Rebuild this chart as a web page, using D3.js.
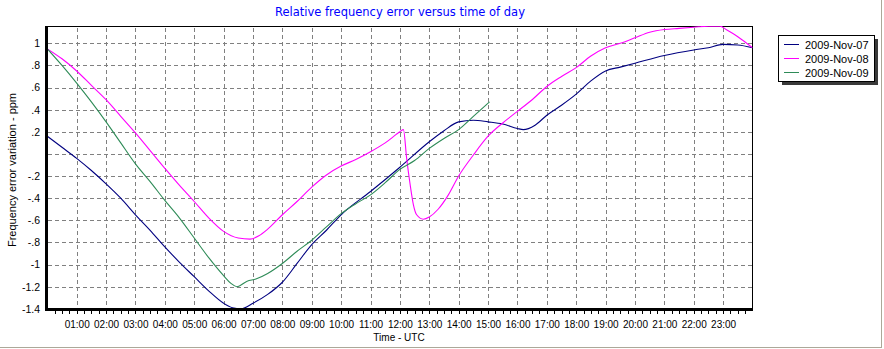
<!DOCTYPE html>
<html>
<head>
<meta charset="utf-8">
<script src="https://cdn.jsdelivr.net/npm/d3@7"></script>
<style>
  html, body { margin: 0; padding: 0; background: #fff; }
  svg { display: block; }
  text { font-family: "Liberation Sans", Arial, sans-serif; }
</style>
</head>
<body>
<svg id="chart" width="884" height="349"></svg>
<script>
// ---------- data ----------
const seriesNames = ["2009-Nov-07", "2009-Nov-08", "2009-Nov-09"];
const seriesColors = ["#000080", "#ff00ff", "#2e8b57"];

const nov07Hours = [0, 0.5, 1, 1.5, 2, 2.5, 3, 3.5, 4, 4.5, 5, 5.5, 6, 6.3, 6.6, 7, 7.5, 8, 8.5, 9, 9.5, 10, 11, 12, 13, 13.5, 14, 14.5, 15, 15.5, 16, 16.2, 16.6, 17, 17.5, 18, 18.5, 19, 19.5, 20, 21, 22, 22.5, 23, 23.5, 24];
const nov07Values = [0.16, 0.06, -0.04, -0.15, -0.27, -0.40, -0.55, -0.69, -0.84, -0.98, -1.11, -1.24, -1.35, -1.39, -1.40, -1.35, -1.27, -1.16, -0.99, -0.82, -0.69, -0.55, -0.34, -0.12, 0.11, 0.21, 0.29, 0.305, 0.29, 0.27, 0.23, 0.22, 0.26, 0.35, 0.44, 0.54, 0.66, 0.75, 0.785, 0.82, 0.89, 0.94, 0.96, 0.99, 0.985, 0.96];

const nov08Hours = [0, 0.5, 1, 1.5, 2, 2.5, 3, 3.5, 4, 4.5, 5, 5.5, 6, 6.5, 6.9, 7.2, 7.5, 8, 8.5, 9, 9.5, 10, 10.5, 11, 11.5, 12, 12.12, 12.23, 12.35, 12.46, 12.57, 12.8, 13, 13.3, 13.65, 14, 14.5, 15, 15.5, 16, 16.5, 17, 17.5, 18, 18.5, 19, 19.5, 20, 20.5, 21, 21.5, 22, 22.5, 22.9, 23.1, 23.5, 24];
const nov08Values = [0.95, 0.86, 0.75, 0.62, 0.49, 0.34, 0.19, 0.03, -0.13, -0.285, -0.43, -0.58, -0.70, -0.76, -0.77, -0.74, -0.68, -0.55, -0.43, -0.30, -0.19, -0.11, -0.05, 0.02, 0.10, 0.20, 0.22, -0.04, -0.28, -0.46, -0.55, -0.59, -0.57, -0.50, -0.37, -0.20, -0.01, 0.16, 0.28, 0.385, 0.49, 0.61, 0.70, 0.78, 0.885, 0.96, 1.00, 1.05, 1.10, 1.125, 1.135, 1.145, 1.155, 1.155, 1.125, 1.06, 0.96];

const nov09Hours = [0, 0.5, 1, 1.5, 2, 2.5, 3, 3.5, 4, 4.5, 5, 5.5, 6, 6.25, 6.45, 6.8, 7.1, 7.5, 8, 8.5, 9, 9.5, 10, 10.5, 11, 11.5, 12, 12.5, 13, 13.5, 14, 14.5, 15.05];
const nov09Values = [0.95, 0.80, 0.64, 0.47, 0.29, 0.10, -0.09, -0.25, -0.42, -0.58, -0.76, -0.94, -1.10, -1.17, -1.20, -1.15, -1.13, -1.08, -0.99, -0.88, -0.78, -0.66, -0.54, -0.45, -0.37, -0.26, -0.14, -0.06, 0.05, 0.14, 0.22, 0.34, 0.47];

const xTickHours = d3.range(1, 24);
const xMinorTicks = d3.range(0.25, 24, 0.25);
const yTickValues = [-1.4, -1.2, -1.0, -0.8, -0.6, -0.4, -0.2, 0, 0.2, 0.4, 0.6, 0.8, 1.0];
const yGridValues = [-1.2, -1.0, -0.8, -0.6, -0.4, -0.2, 0, 0.2, 0.4, 0.6, 0.8, 1.0];

const titleText = "Relative frequency error versus time of day";
const xTitle = "Time - UTC";
const yTitle = "Frequency error variation - ppm";

// ---------- layout ----------
const svg = d3.select("#chart");
const L = 47.3, R = 752.5, T = 26.5, B = 308.8;
const x = d3.scaleLinear().domain([0, 24]).range([L, R]);
const y = d3.scaleLinear().domain([-1.4, 1.152]).range([B, T]);

// outer frame (right / bottom)
svg.append("line").attr("x1", 0).attr("x2", 882).attr("y1", 347.5).attr("y2", 347.5).attr("stroke", "#aca899");
svg.append("line").attr("x1", 881.5).attr("x2", 881.5).attr("y1", 0).attr("y2", 348).attr("stroke", "#aca899");

// title
svg.append("text").attr("x", 400).attr("y", 16).attr("text-anchor", "middle")
  .style("font-family", "'DejaVu Sans', Verdana, sans-serif").style("font-size", "11.5px")
  .attr("fill", "#0000ff").text(titleText);

// grid
const grid = svg.append("g").attr("stroke", "#808080").attr("stroke-dasharray", "4,3").attr("shape-rendering", "crispEdges");
grid.selectAll("line.v").data(xTickHours).join("line").attr("class", "v")
  .attr("x1", d => Math.round(x(d)) + 0.5).attr("x2", d => Math.round(x(d)) + 0.5)
  .attr("y1", T + 1).attr("y2", 308);
grid.selectAll("line.h").data(yGridValues).join("line").attr("class", "h")
  .attr("x1", 48).attr("x2", R)
  .attr("y1", d => Math.round(y(d)) + 0.5).attr("y2", d => Math.round(y(d)) + 0.5);

// plot frame
svg.append("rect").attr("x", 47.5).attr("y", 26.5).attr("width", 705).attr("height", 282)
  .attr("fill", "none").attr("stroke", "#000").attr("shape-rendering", "crispEdges");

// lines
svg.append("defs").append("clipPath").attr("id", "clip")
  .append("rect").attr("x", 48).attr("y", 26).attr("width", 704.5).attr("height", 283);
const line = d3.line().x(d => x(d[0])).y(d => y(d[1])).curve(d3.curveMonotoneX);
const allSeries = [
  d3.zip(nov07Hours, nov07Values),
  d3.zip(nov08Hours, nov08Values),
  d3.zip(nov09Hours, nov09Values)
];
const lines = svg.append("g").attr("clip-path", "url(#clip)");
allSeries.forEach((s, i) => {
  lines.append("path").attr("d", line(s)).attr("fill", "none")
    .attr("stroke", seriesColors[i]).attr("stroke-width", 1.1);
});

// thick axes
svg.append("rect").attr("x", 45).attr("y", 26).attr("width", 3).attr("height", 285).attr("fill", "#000");
svg.append("rect").attr("x", 45).attr("y", 308).attr("width", 708).attr("height", 3).attr("fill", "#000");

// minor ticks
const minor = svg.append("g").attr("transform", "translate(0,311)")
  .call(d3.axisBottom(x).tickValues(xMinorTicks).tickSize(3).tickFormat(""));
minor.select(".domain").remove();
minor.selectAll("line").attr("stroke", "#000").attr("shape-rendering", "crispEdges");

// x labels
const xAx = svg.append("g").attr("transform", "translate(0,321)")
  .call(d3.axisBottom(x).tickValues(xTickHours).tickSize(0).tickPadding(0)
    .tickFormat(d => String(d).padStart(2, "0") + ":00"));
xAx.select(".domain").remove();
xAx.selectAll("text").style("font-family", "'Liberation Sans', Arial, sans-serif").style("font-size", "10px").attr("fill", "#000");

// y labels
const fmtY = v => {
  if (Math.abs(v) < 1e-9) return "";
  let s = String(+v.toFixed(1));
  return s.replace(/^(-?)0\./, "$1.");
};
const yAx = svg.append("g").attr("transform", "translate(45,0)")
  .call(d3.axisLeft(y).tickValues(yTickValues).tickSize(0).tickPadding(5).tickFormat(fmtY));
yAx.select(".domain").remove();
yAx.selectAll("text").style("font-family", "'Liberation Sans', Arial, sans-serif").style("font-size", "10.5px").attr("fill", "#000");

// axis titles
svg.append("text").attr("x", 399).attr("y", 341).attr("text-anchor", "middle")
  .style("font-size", "10px").attr("fill", "#000").text(xTitle);
svg.append("text").attr("transform", "translate(15.5,170) rotate(-90)").attr("text-anchor", "middle")
  .style("font-size", "11px").attr("fill", "#000").text(yTitle);

// legend
const lg = svg.append("g");
lg.append("rect").attr("x", 782).attr("y", 39).attr("width", 96).attr("height", 46).attr("fill", "#3a3a3a");
lg.append("rect").attr("x", 778.5).attr("y", 35.5).attr("width", 96).attr("height", 46)
  .attr("fill", "#fff").attr("stroke", "#000").attr("shape-rendering", "crispEdges");
seriesNames.forEach((n, i) => {
  const yy = 44.5 + i * 14;
  lg.append("line").attr("x1", 784).attr("x2", 799).attr("y1", yy).attr("y2", yy)
    .attr("stroke", seriesColors[i]).attr("shape-rendering", "crispEdges");
  lg.append("text").attr("x", 805).attr("y", yy + 4).style("font-size", "11px").attr("fill", "#000").text(n);
});
</script>
</body>
</html>
